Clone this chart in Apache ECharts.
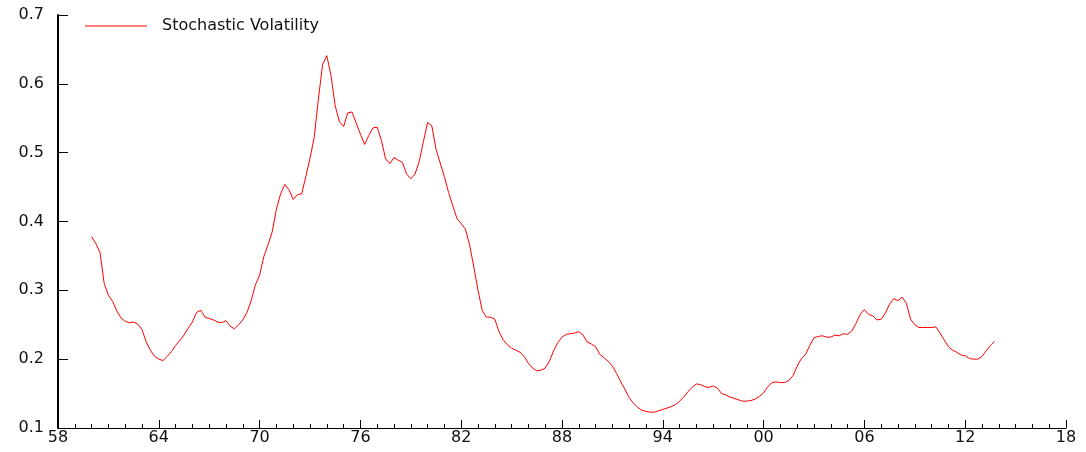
<!DOCTYPE html>
<html>
<head>
<meta charset="utf-8">
<style>
  html, body { margin: 0; padding: 0; background: #fff; }
  #chart { width: 1086px; height: 452px; }
</style>
<script src="https://cdn.jsdelivr.net/npm/echarts@6/dist/echarts.min.js"></script>
</head>
<body>
<div id="chart"></div>
<script>
// Quarterly estimates, 1960Q1 .. 2013Q4
const startYear = 1960;
const seriesName = 'Stochastic Volatility';
const volatility = [
  0.378, 0.368, 0.355, 0.310,  // 1960
  0.293, 0.284, 0.270, 0.260,  // 1961
  0.255, 0.253, 0.254, 0.251,  // 1962
  0.243, 0.225, 0.213, 0.204,  // 1963
  0.200, 0.198, 0.204, 0.211,  // 1964
  0.220, 0.227, 0.235, 0.245,  // 1965
  0.254, 0.268, 0.271, 0.261,  // 1966
  0.259, 0.257, 0.254, 0.253,  // 1967
  0.256, 0.248, 0.244, 0.250,  // 1968
  0.257, 0.268, 0.285, 0.308,  // 1969
  0.322, 0.349, 0.366, 0.385,  // 1970
  0.418, 0.440, 0.454, 0.446,  // 1971
  0.432, 0.439, 0.440, 0.465,  // 1972
  0.492, 0.522, 0.578, 0.628,  // 1973
  0.641, 0.612, 0.568, 0.545,  // 1974
  0.538, 0.558, 0.559, 0.543,  // 1975
  0.527, 0.512, 0.525, 0.536,  // 1976
  0.537, 0.518, 0.491, 0.484,  // 1977
  0.493, 0.489, 0.486, 0.469,  // 1978
  0.462, 0.469, 0.487, 0.516,  // 1979
  0.544, 0.539, 0.505, 0.485,  // 1980
  0.465, 0.442, 0.423, 0.404,  // 1981
  0.397, 0.389, 0.366, 0.334,  // 1982
  0.300, 0.271, 0.261, 0.261,  // 1983
  0.258, 0.240, 0.228, 0.221,  // 1984
  0.216, 0.213, 0.210, 0.204,  // 1985
  0.194, 0.187, 0.183, 0.184,  // 1986
  0.187, 0.197, 0.212, 0.224,  // 1987
  0.232, 0.236, 0.237, 0.238,  // 1988
  0.240, 0.235, 0.225, 0.222,  // 1989
  0.218, 0.207, 0.202, 0.197,  // 1990
  0.190, 0.179, 0.167, 0.156,  // 1991
  0.144, 0.136, 0.130, 0.126,  // 1992
  0.124, 0.123, 0.123, 0.125,  // 1993
  0.127, 0.129, 0.131, 0.134,  // 1994
  0.139, 0.145, 0.153, 0.159,  // 1995
  0.164, 0.163, 0.160, 0.159,  // 1996
  0.161, 0.158, 0.150, 0.148,  // 1997
  0.145, 0.143, 0.141, 0.139,  // 1998
  0.139, 0.140, 0.142, 0.146,  // 1999
  0.151, 0.160, 0.166, 0.167,  // 2000
  0.166, 0.166, 0.169, 0.176,  // 2001
  0.190, 0.201, 0.207, 0.220,  // 2002
  0.231, 0.233, 0.234, 0.232,  // 2003
  0.232, 0.235, 0.234, 0.237,  // 2004
  0.236, 0.241, 0.252, 0.265,  // 2005
  0.272, 0.265, 0.263, 0.257,  // 2006
  0.258, 0.267, 0.280, 0.288,  // 2007
  0.285, 0.290, 0.281, 0.258,  // 2008
  0.250, 0.246, 0.246, 0.246,  // 2009
  0.246, 0.247, 0.238, 0.228,  // 2010
  0.218, 0.213, 0.210, 0.206,  // 2011
  0.205, 0.201, 0.200, 0.200,  // 2012
  0.204, 0.212, 0.220, 0.226   // 2013
];
const xTicks = { min: 1958, max: 2018, step: 6 };
const yTicks = { min: 0.1, max: 0.7, step: 0.1 };

// pair each quarterly value with its fractional year
const points = volatility.map((v, i) => [startYear + i / 4, v]);

const axisColor = '#000';
const textColor = '#111';
const fontFamily = '"DejaVu Sans", Verdana, sans-serif';

const chart = echarts.init(document.getElementById('chart'), null, { renderer: 'canvas' });
chart.setOption({
  animation: false,
  backgroundColor: '#fff',
  grid: { left: 58, right: 20, top: 15, bottom: 24, containLabel: false },
  legend: {
    left: 80, top: 13,
    icon: 'path://M0,0H62V1H0Z',
    itemWidth: 62, itemHeight: 1,
    textStyle: { fontFamily, fontSize: 16, color: textColor, padding: [0, 0, 0, 10] },
    data: [seriesName]
  },
  xAxis: {
    type: 'value',
    min: xTicks.min, max: xTicks.max, interval: xTicks.step,
    axisLine: { show: true, lineStyle: { color: axisColor, width: 1 } },
    axisTick: { show: true, inside: true, length: 8, lineStyle: { color: axisColor } },
    minorTick: { show: true, splitNumber: 6, length: 4, lineStyle: { color: axisColor } },
    splitLine: { show: false },
    axisLabel: {
      margin: 2, fontFamily, fontSize: 16, color: textColor,
      formatter: v => String(Math.round(v) % 100).padStart(2, '0')
    }
  },
  yAxis: {
    type: 'value',
    min: yTicks.min, max: yTicks.max, interval: yTicks.step,
    axisLine: { show: true, lineStyle: { color: axisColor, width: 2 } },
    axisTick: { show: true, inside: true, length: 10, lineStyle: { color: axisColor } },
    splitLine: { show: false },
    axisLabel: {
      margin: 14, fontFamily, fontSize: 16, color: textColor,
      formatter: v => v.toFixed(1)
    }
  },
  series: [{
    name: seriesName,
    type: 'line',
    data: points,
    showSymbol: false,
    symbol: 'none',
    smooth: false,
    lineStyle: { color: '#ff0000', width: 1 },
    itemStyle: { color: '#ff0000' }
  }]
});
</script>
</body>
</html>
